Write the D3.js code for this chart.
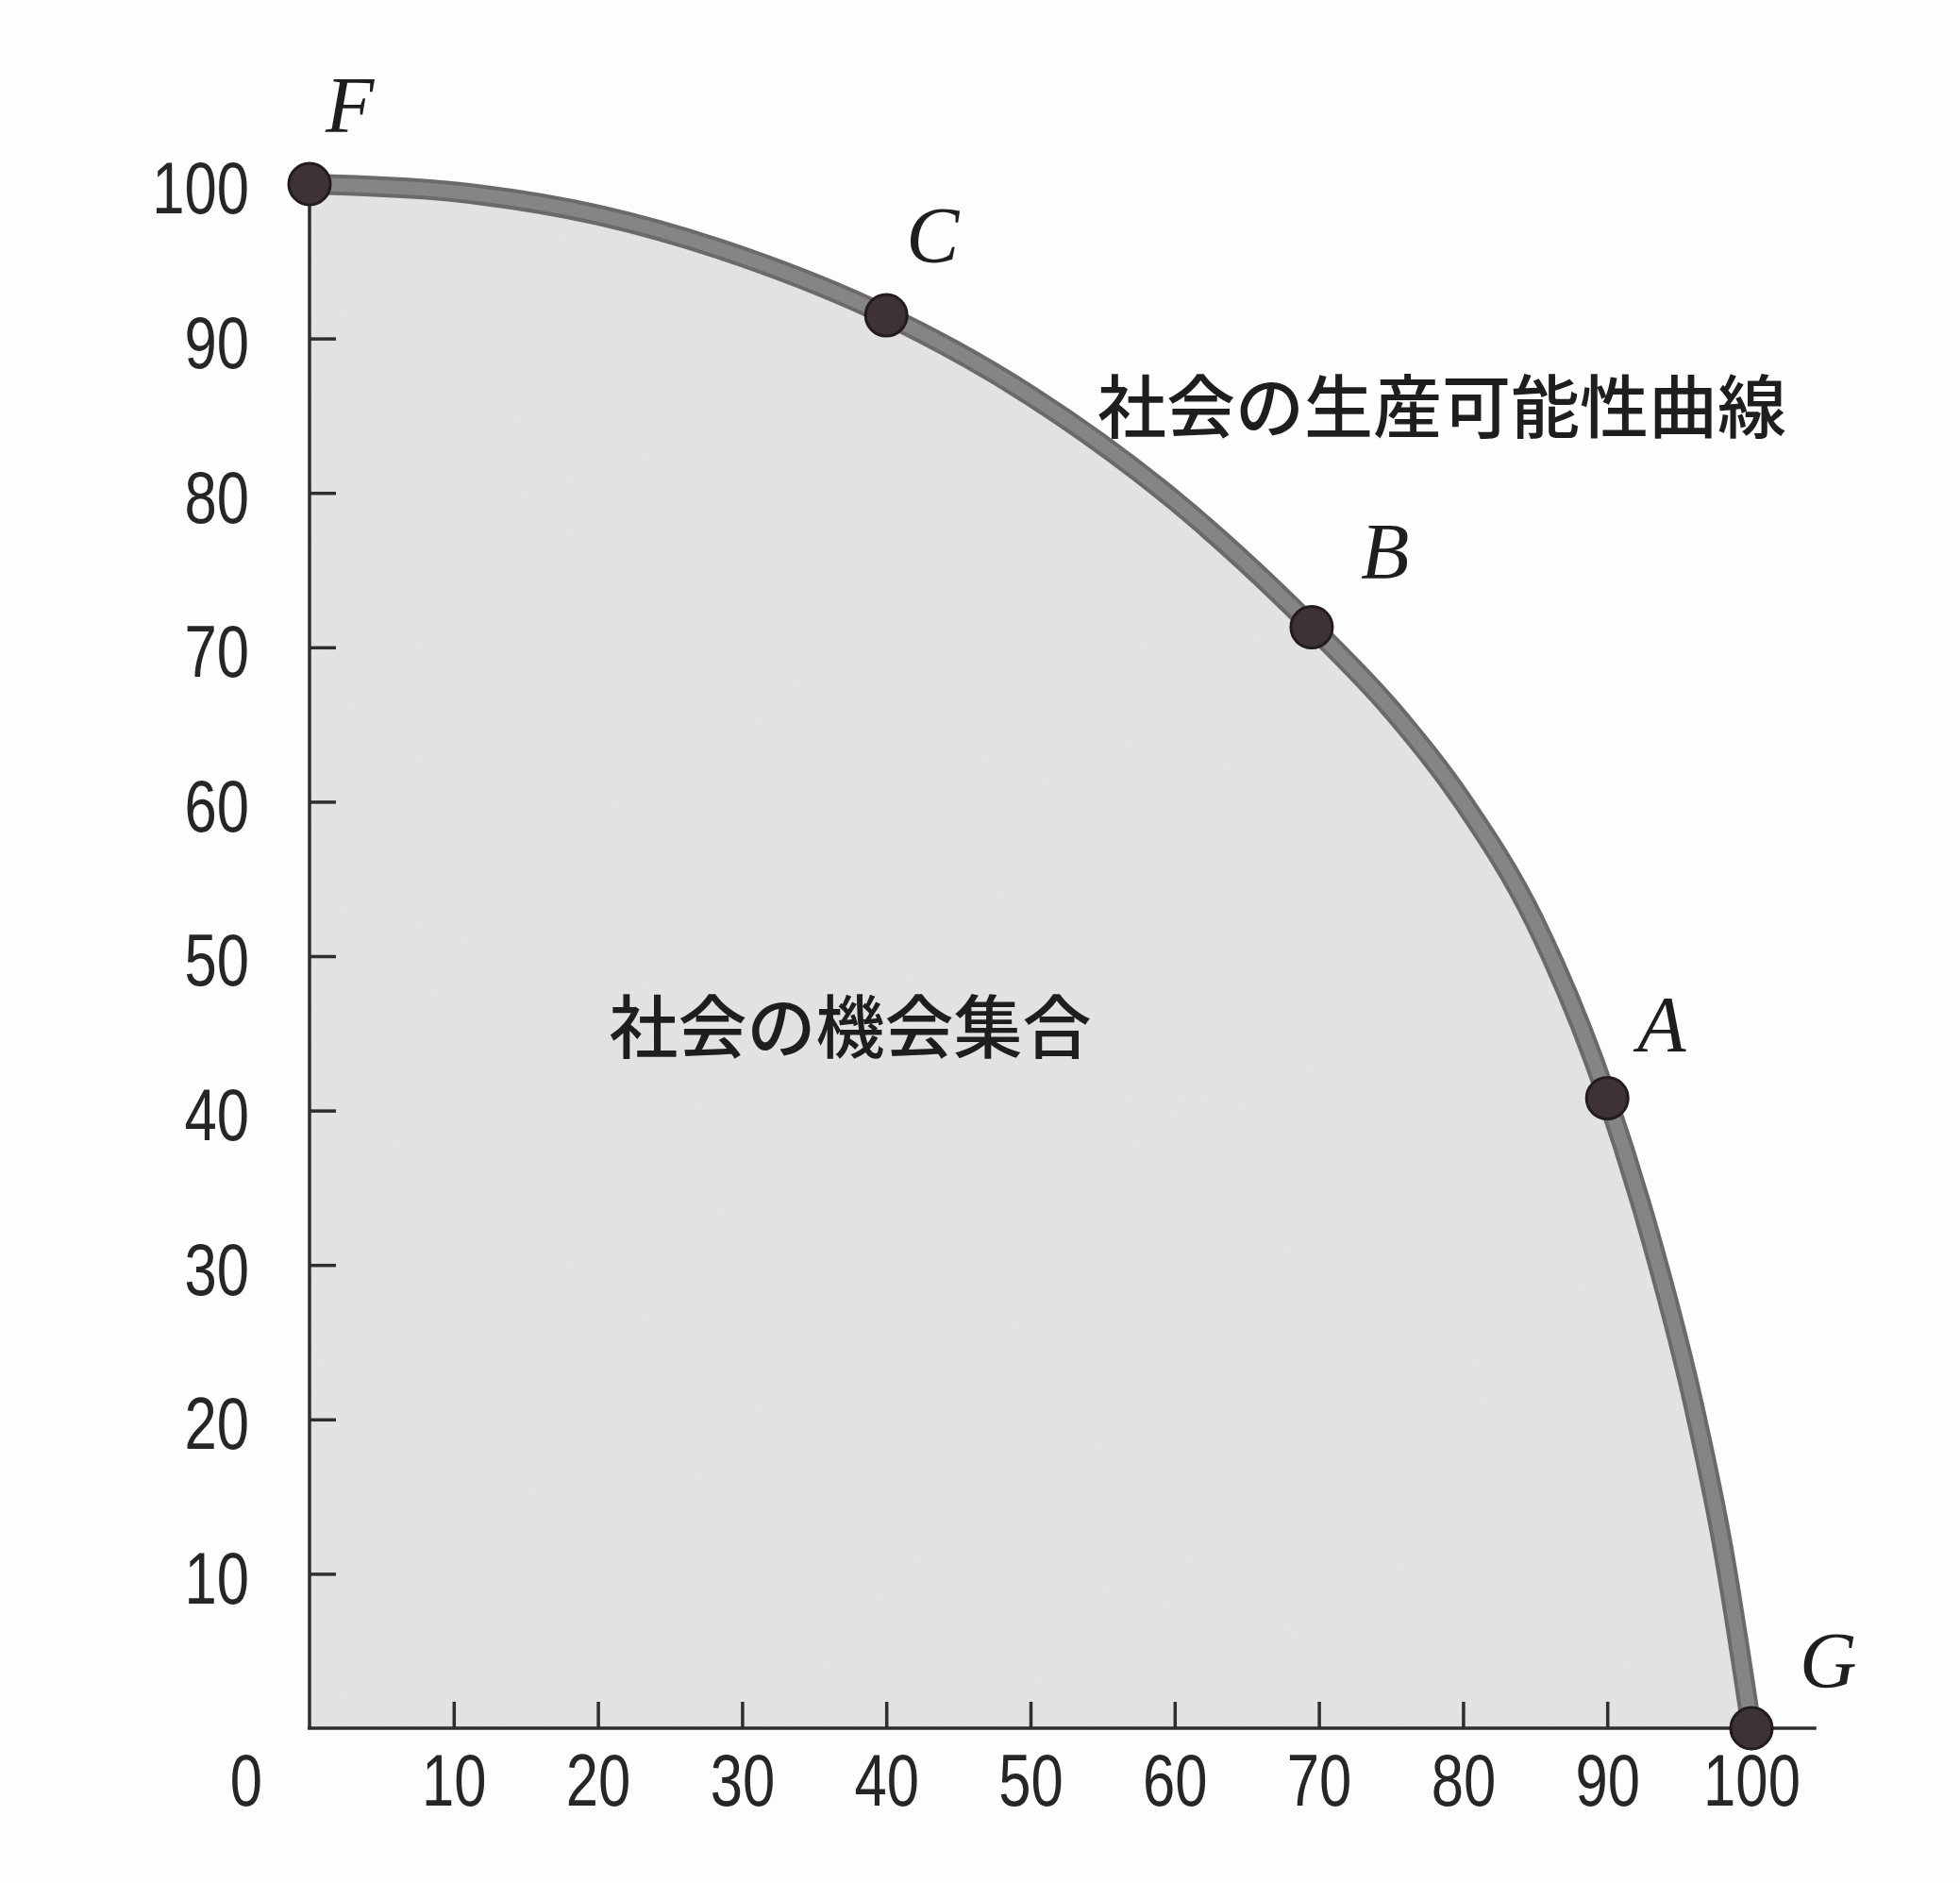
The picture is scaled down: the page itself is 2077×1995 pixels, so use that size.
<!DOCTYPE html>
<html>
<head>
<meta charset="utf-8">
<script src="https://cdn.jsdelivr.net/npm/d3@7"></script>
<style>
  html, body { margin: 0; padding: 0; background: #fdfdfd; }
  svg { display: block; }
</style>
</head>
<body>
<svg id="chart" width="2077" height="1995"></svg>
<script>
// ---------- data ----------
const frontierX = [0, 10, 20, 30, 40, 50, 60, 70, 75, 80, 85, 90, 93, 96, 98, 100];
const frontierY = [100, 99.5, 98.0, 95.3, 91.5, 86.3, 79.5, 70.9, 66.0, 60.0, 52.2, 40.8, 31.8, 20.9, 11.8, 0];

const pointNames = ["F", "C", "B", "A", "G"];
const pointX = [0, 40, 69.5, 90, 100];
const pointY = [100, 91.5, 71.3, 40.8, 0];

const xTickValues = [10, 20, 30, 40, 50, 60, 70, 80, 90, 100];
const yTickValues = [10, 20, 30, 40, 50, 60, 70, 80, 90, 100];
const originLabel = "0";

const curveLabel = "社会の生産可能性曲線";
const areaLabel = "社会の機会集合";

// ---------- layout ----------
const x = d3.scaleLinear().domain([0, 100]).range([328, 1856]);
const y = d3.scaleLinear().domain([0, 100]).range([1831, 195]);
const xAxisEnd = 104.5;
const narrow = 0.8; // horizontal compression of the tick digits

// label offsets from their dots (px)
const labelOffsets = { F: [17, -55], C: [21, -56], B: [52, -52], A: [32, -50], G: [51, -43] };

const svg = d3.select("#chart");

// subtle paper grain for the shaded set
const defs = svg.append("defs");
const f = defs.append("filter").attr("id", "grain").attr("x", 0).attr("y", 0).attr("width", 1).attr("height", 1);
f.append("feTurbulence").attr("type", "fractalNoise").attr("baseFrequency", 0.35).attr("numOctaves", 2).attr("seed", 3).attr("result", "noise");
f.append("feColorMatrix").attr("in", "noise").attr("type", "matrix")
  .attr("values", "0 0 0 0 0.5  0 0 0 0 0.5  0 0 0 0 0.5  0 0 0 0.10 0").attr("result", "grayNoise");
f.append("feComposite").attr("in", "grayNoise").attr("in2", "SourceGraphic").attr("operator", "in").attr("result", "clipped");
f.append("feMerge").selectAll("feMergeNode").data(["SourceGraphic", "clipped"]).join("feMergeNode").attr("in", d => d);

const frontier = frontierX.map((v, i) => ({ x: v, y: frontierY[i] }));

// shaded opportunity set
const area = d3.area()
  .x(d => x(d.x))
  .y0(y(0))
  .y1(d => y(d.y))
  .curve(d3.curveMonotoneX);

svg.append("path")
  .datum(frontier)
  .attr("d", area)
  .attr("fill", "#e4e4e4")
  .attr("filter", "url(#grain)");

// axes
const tickFont = "'Liberation Sans', Arial, sans-serif";

const yAxis = d3.axisLeft(y)
  .tickValues(yTickValues)
  .tickSizeInner(-28)
  .tickSizeOuter(0)
  .tickPadding(64)
  .tickFormat(d3.format("d"));

const gy = svg.append("g").attr("transform", `translate(${x(0)},0)`).call(yAxis);

const xAxis = d3.axisBottom(x)
  .tickValues(xTickValues)
  .tickSizeInner(-28)
  .tickSizeOuter(0)
  .tickPadding(27)
  .tickFormat(d3.format("d"));

const gx = svg.append("g").attr("transform", `translate(0,${y(0)})`).call(xAxis);

function condense(sel) {
  sel.each(function () {
    const w = this.getComputedTextLength();
    d3.select(this).attr("textLength", w * narrow).attr("lengthAdjust", "spacingAndGlyphs");
  });
}

[gx, gy].forEach(g => {
  g.select(".domain").remove();
  g.selectAll(".tick line").attr("stroke", "#2e2e2e").attr("stroke-width", 3.5);
  g.selectAll(".tick text")
    .attr("fill", "#262626")
    .style("font-family", tickFont)
    .style("font-size", "77px")
    .call(condense);
});
gy.selectAll(".tick text").attr("dy", "0.40em");
gx.selectAll(".tick text").attr("dy", "0.72em");

// axis lines
svg.append("line")
  .attr("x1", x(0)).attr("x2", x(0))
  .attr("y1", y(0)).attr("y2", y(100))
  .attr("stroke", "#2e2e2e").attr("stroke-width", 3.5);
svg.append("line")
  .attr("x1", x(0) - 2).attr("x2", x(xAxisEnd))
  .attr("y1", y(0)).attr("y2", y(0))
  .attr("stroke", "#2e2e2e").attr("stroke-width", 3.5);

// origin label
svg.append("text")
  .attr("x", x(0) - 67)
  .attr("y", y(0) + 27)
  .attr("dy", "0.72em")
  .attr("text-anchor", "middle")
  .attr("fill", "#262626")
  .style("font-family", tickFont)
  .style("font-size", "77px")
  .text(originLabel)
  .call(condense);

// frontier curve
const line = d3.line()
  .x(d => x(d.x))
  .y(d => y(d.y))
  .curve(d3.curveMonotoneX);

svg.append("path")
  .datum(frontier)
  .attr("d", line)
  .attr("fill", "none")
  .attr("stroke", "#6c696b")
  .attr("stroke-width", 22)
  .attr("stroke-linecap", "round");
svg.append("path")
  .datum(frontier)
  .attr("d", line)
  .attr("fill", "none")
  .attr("stroke", "#868486")
  .attr("stroke-width", 14)
  .attr("stroke-linecap", "round");

// points
const pts = pointNames.map((n, i) => ({ name: n, x: pointX[i], y: pointY[i] }));

svg.append("g").selectAll("circle")
  .data(pts)
  .join("circle")
  .attr("cx", d => x(d.x))
  .attr("cy", d => y(d.y))
  .attr("r", 22)
  .attr("fill", "#3d3236")
  .attr("stroke", "#231c1f")
  .attr("stroke-width", 3);

svg.append("g").selectAll("text")
  .data(pts)
  .join("text")
  .attr("x", d => x(d.x) + labelOffsets[d.name][0])
  .attr("y", d => y(d.y) + labelOffsets[d.name][1])
  .attr("fill", "#1e1e1e")
  .style("font-family", "'Liberation Serif', 'Times New Roman', serif")
  .style("font-style", "italic")
  .style("font-size", "84px")
  .text(d => d.name);

// Japanese annotations
const jpFont = "'Noto Sans CJK JP', 'Noto Sans CJK SC', sans-serif";

svg.append("text")
  .attr("x", 1528)
  .attr("y", 458)
  .attr("text-anchor", "middle")
  .attr("fill", "#1e1e1e")
  .style("font-family", jpFont)
  .style("font-weight", 500)
  .style("font-size", "73px")
  .text(curveLabel);

svg.append("text")
  .attr("x", 901)
  .attr("y", 1115)
  .attr("text-anchor", "middle")
  .attr("fill", "#1e1e1e")
  .style("font-family", jpFont)
  .style("font-weight", 500)
  .style("font-size", "73px")
  .text(areaLabel);
</script>
</body>
</html>
